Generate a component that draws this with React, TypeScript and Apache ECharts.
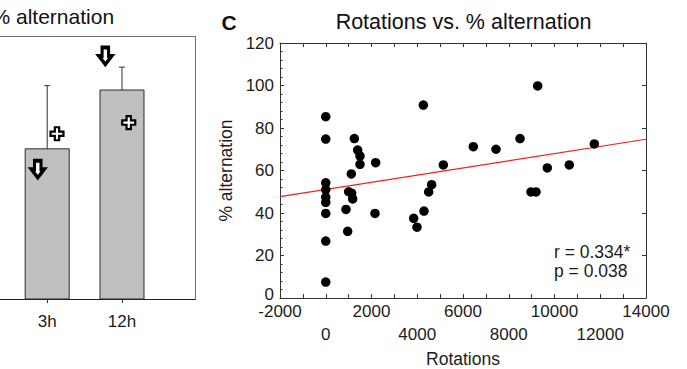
import React, { useEffect, useRef } from 'react';
import * as echarts from 'echarts';

// Panel B (cropped bar chart)
const barLabels = ['3h', '12h'];
const barPositions = [2, 3];
const barMeans = [68.7, 95.6];
const barErrors = [28.9, 10.5];
const arrowX = [1.874, 2.777];
const arrowY = [59.4, 111.2];
const plusX = [2.131, 3.09];
const plusY = [75.6, 80.7];

// Panel C (scatter)
const rotations = [
  0, 0, 0, 0, 0, 0, 0, 0, 0,
  885, 958, 1002, 1118, 1133, 1177, 1250, 1395, 1497, 1497,
  2153, 2183, 3844, 3989, 4266, 4295, 4500, 4631, 5140, 6451,
  7443, 8492, 8973, 9191, 9264, 9685, 10647, 11740,
];
const alternation = [
  85.3, 74.8, 54.2, 51, 47.5, 45, 39.8, 26.8, 7.5,
  41.7, 31.4, 50, 58.4, 49.3, 46.6, 75, 69.6, 66.8, 62.9,
  39.8, 63.7, 37.5, 33.3, 90.8, 40.9, 49.9, 53.3, 62.6, 71.2,
  70, 75, 49.9, 49.9, 99.8, 61.2, 62.6, 72.5,
];
const fitX = [-2000, 14000];
const fitY = [47.7, 74.7];
const xTicks = { min: -2000, max: 14000, interval: 2000 };
const yTicks = { min: 0, max: 120, interval: 20 };

const FONT = 'Liberation Sans, Arial, Helvetica, sans-serif';
const TXT = '#1c1c1c';

const ARROW = 'path://M3,0 L9,0 L9,8 L12,8 L6,16 L0,8 L3,8 Z';
const PLUS = 'path://M4,0 L8,0 L8,4 L12,4 L12,8 L8,8 L8,12 L4,12 L4,8 L0,8 L0,4 L4,4 Z';

const isRow2 = (v: number) => Math.round(v / 2000) % 2 === 0;

export default function App() {
  const ref = useRef<HTMLDivElement>(null);
  useEffect(() => {
    if (!ref.current) return;
    const chart = echarts.init(ref.current, undefined, { renderer: 'svg' });
    const barData = barPositions.map((p, i) => [p, barMeans[i], barErrors[i]]);
    const scatterData = rotations.map((r, i) => [r, alternation[i]]);
    const fitData = fitX.map((x, i) => [x, fitY[i]]);
    const frameLine = { show: true, onZero: false, lineStyle: { color: '#707070', width: 1 } };
    const axisC = { show: true, onZero: false, lineStyle: { color: '#333' } };
    const option: any = {
      animation: false,
      backgroundColor: '#fff',
      textStyle: { fontFamily: FONT },
      grid: [
        { left: 0, top: 36.7, width: 195.3, height: 262.3, containLabel: false, outerBoundsMode: 'none' },
        { left: 280, top: 43, right: 41, bottom: 71, containLabel: false, outerBoundsMode: 'none' },
      ],
      xAxis: [
        {
          gridIndex: 0, type: 'value', min: 1.369, max: 3.98,
          axisLine: { show: true, onZero: false, lineStyle: { color: '#222', width: 1.2 } },
          axisTick: { show: true, inside: false, length: 4, customValues: barPositions, lineStyle: { color: '#333' } },
          axisLabel: {
            show: true, customValues: barPositions, margin: 14, fontSize: 17, color: TXT, fontFamily: FONT,
            formatter: (v: number) => { const i = barPositions.indexOf(v); return i >= 0 ? barLabels[i] : ''; },
          },
          splitLine: { show: false },
        },
        {
          gridIndex: 0, type: 'value', position: 'top', min: 1.369, max: 3.98,
          axisLine: frameLine, axisTick: { show: false }, axisLabel: { show: false }, splitLine: { show: false },
        },
        {
          gridIndex: 1, type: 'value', position: 'bottom', min: xTicks.min, max: xTicks.max, interval: xTicks.interval,
          name: 'Rotations', nameLocation: 'middle', nameGap: 52,
          nameTextStyle: { fontSize: 17.5, color: TXT, fontFamily: FONT },
          axisLine: axisC,
          axisTick: { show: true, inside: true, length: 4, lineStyle: { color: '#333' } },
          minorTick: { show: true, splitNumber: 2, length: 4, lineStyle: { color: '#333' } },
          axisLabel: {
            show: true, interval: 0, margin: 5, fontSize: 17, color: TXT, fontFamily: FONT,
            showMinLabel: true, showMaxLabel: true, hideOverlap: false,
            formatter: (v: number) => (isRow2(v) ? '' : String(v)),
          },
          splitLine: { show: false },
        },
        {
          gridIndex: 1, type: 'value', position: 'bottom', min: xTicks.min, max: xTicks.max, interval: xTicks.interval,
          axisLine: { show: false, onZero: false }, axisTick: { show: false },
          axisLabel: {
            show: true, interval: 0, margin: 27.5, fontSize: 17, color: TXT, fontFamily: FONT,
            showMinLabel: true, showMaxLabel: true, hideOverlap: false,
            formatter: (v: number) => (isRow2(v) ? String(v) : ''),
          },
          splitLine: { show: false },
        },
        {
          gridIndex: 1, type: 'value', position: 'top', min: xTicks.min, max: xTicks.max, interval: 1000,
          axisLine: axisC,
          axisTick: { show: true, inside: true, length: 4, lineStyle: { color: '#333' } },
          axisLabel: { show: false },
          splitLine: { show: false },
        },
      ],
      yAxis: [
        { gridIndex: 0, type: 'value', min: 0, max: 120, show: false, splitLine: { show: false } },
        {
          gridIndex: 0, type: 'value', position: 'right', min: 0, max: 120,
          axisLine: frameLine, axisTick: { show: false }, axisLabel: { show: false }, splitLine: { show: false },
        },
        {
          gridIndex: 1, type: 'value', position: 'left', min: yTicks.min, max: yTicks.max, interval: yTicks.interval,
          name: '% alternation', nameLocation: 'middle', nameGap: 42,
          nameTextStyle: { fontSize: 17.5, color: TXT, fontFamily: FONT },
          axisLine: axisC,
          axisTick: { show: true, inside: true, length: 4, lineStyle: { color: '#333' } },
          minorTick: { show: true, splitNumber: 5, length: 2.5, lineStyle: { color: '#333' } },
          axisLabel: {
            show: true, margin: 6, fontSize: 17, color: TXT, fontFamily: FONT,
            formatter: (v: number) => (v === 0 ? '{z|0}' : String(v)),
            rich: { z: { fontSize: 17, color: TXT, fontFamily: FONT, padding: [0, 0, 7, 0] } },
          },
          splitLine: { show: false },
        },
        {
          gridIndex: 1, type: 'value', position: 'right', min: yTicks.min, max: yTicks.max, interval: yTicks.interval,
          axisLine: axisC,
          axisTick: { show: true, inside: true, length: 4, lineStyle: { color: '#333' } },
          axisLabel: { show: false },
          splitLine: { show: false },
        },
      ],
      series: [
        {
          type: 'custom', xAxisIndex: 0, yAxisIndex: 0, data: barData, encode: { x: 0, y: 1 },
          renderItem: (params: any, api: any) => {
            const x = api.value(0), y = api.value(1), e = api.value(2);
            const base = api.coord([x, 0]);
            const top = api.coord([x, y]);
            const et = api.coord([x, y + e]);
            const w = 44;
            return {
              type: 'group',
              children: [
                { type: 'line', shape: { x1: top[0], y1: top[1], x2: et[0], y2: et[1] }, style: { stroke: '#333', lineWidth: 1 } },
                { type: 'line', shape: { x1: et[0] - 3, y1: et[1], x2: et[0] + 3, y2: et[1] }, style: { stroke: '#333', lineWidth: 1 } },
                { type: 'rect', shape: { x: top[0] - w / 2, y: top[1], width: w, height: base[1] - top[1] }, style: { fill: '#c0c0c0', stroke: '#2a2a2a', lineWidth: 1 } },
              ],
            };
          },
          z: 2,
        },
        {
          type: 'scatter', xAxisIndex: 0, yAxisIndex: 0, symbol: ARROW, symbolSize: [13, 17],
          itemStyle: { color: '#fff', borderColor: '#000', borderWidth: 3.5, opacity: 1 },
          data: arrowX.map((x, i) => [x, arrowY[i]]), z: 5,
        },
        {
          type: 'scatter', xAxisIndex: 0, yAxisIndex: 0, symbol: PLUS, symbolSize: [13, 13],
          itemStyle: { color: '#fff', borderColor: '#000', borderWidth: 2.2, opacity: 1 },
          data: plusX.map((x, i) => [x, plusY[i]]), z: 5,
        },
        {
          type: 'line', xAxisIndex: 2, yAxisIndex: 2, data: fitData, symbol: 'none',
          lineStyle: { color: '#ff1a1a', width: 1.2 }, z: 3,
        },
        {
          type: 'scatter', xAxisIndex: 2, yAxisIndex: 2, data: scatterData, symbol: 'circle', symbolSize: 9.5,
          itemStyle: { color: '#000', opacity: 1 }, z: 4,
        },
      ],
      graphic: [
        { type: 'text', x: -8.5, y: 16, style: { text: '% alternation', fontSize: 21, fontFamily: FONT, fill: '#111', textAlign: 'left', textVerticalAlign: 'middle' } },
        { type: 'text', x: 221.5, y: 22, style: { text: 'C', fontSize: 21, fontWeight: 'bold', fontFamily: FONT, fill: '#111', textAlign: 'left', textVerticalAlign: 'middle' } },
        { type: 'text', x: 463.5, y: 22, style: { text: 'Rotations vs. % alternation', fontSize: 21.5, fontFamily: FONT, fill: '#111', textAlign: 'center', textVerticalAlign: 'middle' } },
        { type: 'text', x: 554, y: 252, style: { text: 'r = 0.334*', fontSize: 17.5, fontFamily: FONT, fill: TXT, textAlign: 'left', textVerticalAlign: 'middle' } },
        { type: 'text', x: 554, y: 270.5, style: { text: 'p = 0.038', fontSize: 17.5, fontFamily: FONT, fill: TXT, textAlign: 'left', textVerticalAlign: 'middle' } },
      ],
    };
    chart.setOption(option);
    return () => chart.dispose();
  }, []);
  return <div ref={ref} style={{ position: 'fixed', left: 0, top: 0, width: 687, height: 369 }} />;
}
